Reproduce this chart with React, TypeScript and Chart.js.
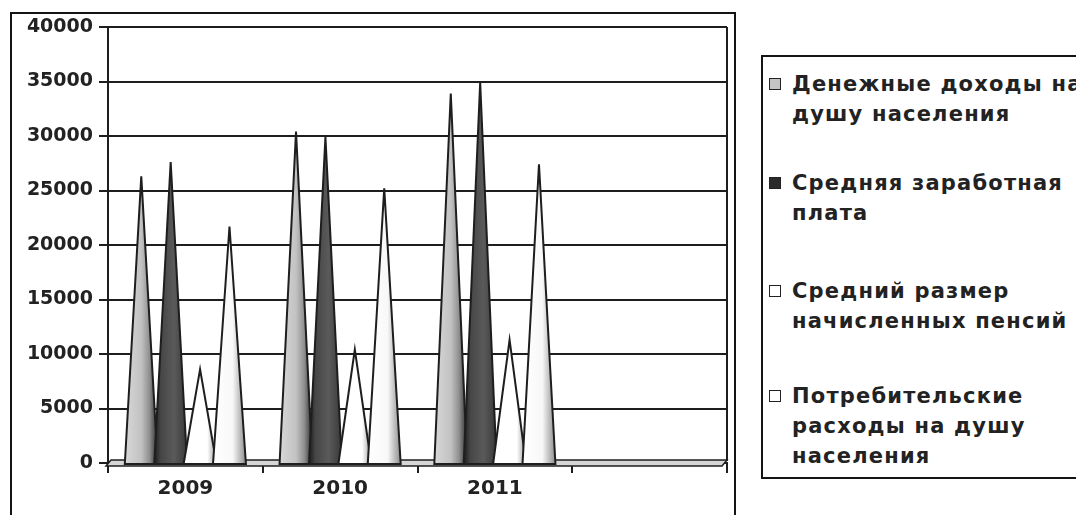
import React, { useEffect, useRef } from "react";
import { Chart, registerables } from "chart.js";

Chart.register(...registerables);

// ---- data ----
const categories = ["2009", "2010", "2011", ""];
const incomePerCapita = [26300, 30400, 33900, null];
const averageWage = [27600, 29900, 34900, null];
const averagePension = [8600, 10400, 11300, null];
const consumerSpending = [21700, 25200, 27400, null];
const seriesNames = [
  "Денежные доходы на душу населения",
  "Средняя заработная плата",
  "Средний размер начисленных пенсий",
  "Потребительские расходы на душу населения",
];
const legendLines = [
  ["Денежные доходы на", "душу населения"],
  ["Средняя заработная", "плата"],
  ["Средний размер", "начисленных пенсий"],
  ["Потребительские", "расходы на душу", "населения"],
];
const yMin = 0;
const yMax = 40000;
const yStep = 5000;

// ---- styles ----
const coneStops: [number, string][][] = [
  [[0, "#d8d8d8"], [0.5, "#c2c2c2"], [0.75, "#8f8f8f"], [1, "#2a2a2a"]],
  [[0, "#1c1c1c"], [0.2, "#464646"], [0.6, "#5a5a5a"], [1, "#383838"]],
  [[0, "#ffffff"], [0.72, "#ffffff"], [1, "#9a9a9a"]],
  [[0, "#ffffff"], [0.6, "#f8f8f8"], [1, "#8c8c8c"]],
];
const markerFill = ["#c4c4c4", "#2a2a2a", "#ffffff", "#ffffff"];
const legendTops = [69, 168, 276, 381];
const ink = "#1e1e1e";

const conePlugin = {
  id: "cones",
  beforeDatasetsDraw(chart: any) {
    const { ctx, chartArea } = chart;
    const { left, right, bottom, top } = chartArea;
    ctx.save();
    ctx.strokeStyle = ink;
    ctx.lineWidth = 2;
    ctx.beginPath();
    ctx.moveTo(right, top);
    ctx.lineTo(right, bottom - 2);
    ctx.stroke();
    ctx.beginPath();
    ctx.moveTo(left + 3, bottom - 3);
    ctx.lineTo(right, bottom - 3);
    ctx.lineTo(right - 5, bottom + 3);
    ctx.lineTo(left - 2, bottom + 3);
    ctx.closePath();
    ctx.fillStyle = "#d6d6d6";
    ctx.fill();
    ctx.lineWidth = 1.5;
    ctx.stroke();
    ctx.restore();
  },
  afterDatasetsDraw(chart: any) {
    const ctx = chart.ctx;
    chart.data.datasets.forEach((ds: any, i: number) => {
      const meta = chart.getDatasetMeta(i);
      meta.data.forEach((bar: any, j: number) => {
        if (ds.data[j] == null) return;
        const { x, y, base, width } = bar.getProps(["x", "y", "base", "width"], true);
        const half = width * 0.56;
        const g = ctx.createLinearGradient(x - half, 0, x + half, 0);
        coneStops[i].forEach(([o, c]) => g.addColorStop(o, c));
        ctx.save();
        ctx.beginPath();
        ctx.moveTo(x - half, base + 2);
        ctx.lineTo(x, y);
        ctx.lineTo(x + half, base + 2);
        ctx.closePath();
        ctx.fillStyle = g;
        ctx.fill();
        ctx.strokeStyle = ink;
        ctx.lineWidth = 2;
        ctx.lineJoin = "miter";
        ctx.stroke();
        ctx.restore();
      });
    });
  },
};

export default function App() {
  const canvasRef = useRef<HTMLCanvasElement | null>(null);

  useEffect(() => {
    if (!canvasRef.current) return;
    const series = [incomePerCapita, averageWage, averagePension, consumerSpending];
    const chart = new Chart(canvasRef.current, {
      type: "bar",
      data: {
        labels: categories,
        datasets: series.map((d, i) => ({
          label: seriesNames[i],
          data: d,
          backgroundColor: "rgba(0,0,0,0)",
          borderWidth: 0,
          categoryPercentage: 0.76,
          barPercentage: 1,
        })),
      },
      options: {
        animation: false,
        responsive: false,
        devicePixelRatio: 1,
        layout: { padding: { left: 0, top: 27, right: 349, bottom: 0 } },
        plugins: { legend: { display: false }, tooltip: { enabled: false } },
        scales: {
          x: {
            grid: {
              display: true,
              drawOnChartArea: false,
              drawTicks: true,
              tickLength: 10,
              color: ink,
              lineWidth: 2,
              offset: true,
            },
            border: { display: true, color: ink, width: 2 },
            ticks: {
              color: "#222",
              padding: 4,
              font: { family: "DejaVu Sans", weight: "bold", size: 20 },
            },
            afterFit: (s: any) => {
              s.height = 52;
            },
          },
          y: {
            min: yMin,
            max: yMax,
            grid: { color: ink, lineWidth: 2, tickLength: 9, drawTicks: true },
            border: { display: true, color: ink, width: 2 },
            ticks: {
              stepSize: yStep,
              color: "#222",
              padding: 6,
              font: { family: "DejaVu Sans", weight: "bold", size: 19 },
              callback: (v: any) => String(v),
            },
            afterFit: (s: any) => {
              s.width = 108;
            },
          },
        },
      },
      plugins: [conePlugin],
    });
    return () => chart.destroy();
  }, []);

  return (
    <div
      style={{
        position: "absolute",
        left: 0,
        top: 0,
        width: 1076,
        height: 515,
        overflow: "hidden",
        background: "#fff",
      }}
    >
      <div
        style={{
          position: "absolute",
          left: 10,
          top: 12,
          width: 722,
          height: 560,
          border: "2px solid #141414",
        }}
      />
      <canvas
        ref={canvasRef}
        width={1076}
        height={515}
        style={{ position: "absolute", left: 0, top: 0, width: 1076, height: 515 }}
      />
      <div
        style={{
          position: "absolute",
          left: 761,
          top: 55,
          width: 400,
          height: 420,
          border: "2px solid #141414",
          background: "#fff",
        }}
      />
      {legendLines.map((lines, i) => (
        <div
          key={i}
          style={{
            position: "absolute",
            left: 769,
            top: legendTops[i],
            fontFamily: "DejaVu Sans",
            fontWeight: "bold",
            fontSize: 21,
            lineHeight: "30px",
            letterSpacing: 1.2,
            color: "#222",
            whiteSpace: "nowrap",
          }}
        >
          <span
            style={{
              position: "absolute",
              left: 0,
              top: 9,
              width: 10,
              height: 10,
              border: "1.5px solid #222",
              background: markerFill[i],
            }}
          />
          <div style={{ paddingLeft: 23 }}>
            {lines.map((l, k) => (
              <div key={k}>{l}</div>
            ))}
          </div>
        </div>
      ))}
    </div>
  );
}
